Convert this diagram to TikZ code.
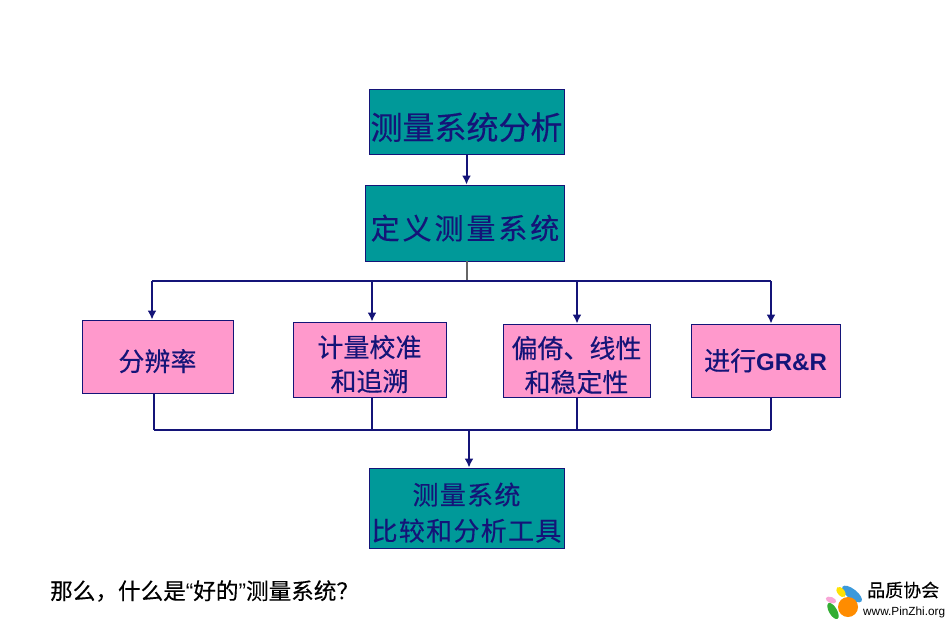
\documentclass[tikz,border=0pt]{standalone}
\usepackage{fontspec}
\usetikzlibrary{arrows.meta}
\setmainfont{Liberation Sans}
\newfontfamily\cjk[FakeBold=0.3]{Noto Sans CJK SC}
\newfontfamily\cjkmid[FakeBold=0.3, LetterSpace=5]{Noto Sans CJK SC}
\newfontfamily\cjkwide[FakeBold=0.3, LetterSpace=10]{Noto Sans CJK SC}
\newcommand{\bas}{\rule{0pt}{1.2em}}
\definecolor{marine}{RGB}{20,20,120}
\definecolor{sarcelle}{RGB}{0,153,153}
\definecolor{rose}{RGB}{255,153,204}

\begin{document}
\begin{tikzpicture}[x=1pt, y=-1pt]
	\tikzset{boite/.style={draw=marine, line width=0.9pt, align=center, text=marine, inner sep=0pt},
	verte/.style={boite, fill=sarcelle},
	rosee/.style={boite, fill=rose, font=\fontsize{26}{34}\selectfont\cjk},
	fleche/.style={draw=marine, line width=2pt, -{Latex[length=9pt,width=9pt]}},
	trait/.style={draw=marine, line width=2pt}};

	\useasboundingbox (0,0) rectangle (950,624);

	\node[verte, minimum width=195pt, minimum height=65pt, font=\fontsize{32}{36}\selectfont\cjk] (mesure) at (466.5,121.5) {\bas 测量系统分析};
	\node[verte, minimum width=199pt, minimum height=76pt, font=\fontsize{29}{36}\selectfont\cjkwide] (defin) at (465,223) {\bas 定义测量系统};
	\node[verte, minimum width=195pt, minimum height=80pt, font=\fontsize{26}{36}\selectfont\cjkmid] (outil) at (466.5,508) {\bas 测量系统\\比较和分析工具};

	\node[rosee, minimum width=151pt, minimum height=73pt] (fen) at (157.5,356.5) {\bas 分辨率};
	\node[rosee, minimum width=153pt, minimum height=75pt] (jil) at (369.5,359.5) {\bas 计量校准\\和追溯};
	\node[rosee, minimum width=147pt, minimum height=73pt] (pian) at (576.5,360.5) {\bas 偏倚、线性\\和稳定性};
	\node[rosee, minimum width=149pt, minimum height=73pt] (gr) at (765.5,360.5) {进行{\fontsize{24}{34}\selectfont\bfseries\rmfamily GR\&R}};

	% bus du haut et bus du bas
	\coordinate (haut-d) at (467,281);
	\coordinate (bas-d) at (469,430);
	\foreach \name/\xh/\xb in {fen/152/154, jil/372/372, pian/577/577, gr/771/771}{
		\coordinate (haut-\name) at (\xh,281);
		\coordinate (bas-\name) at (\xb,430);
		\draw[fleche] (haut-\name) -- (haut-\name |- \name.north);
		\draw[trait] (bas-\name |- \name.south) -- (bas-\name);
	}

	\draw[fleche] (mesure.south) -- (mesure.south |- defin.north);
	\draw[draw=black!60, line width=1.2pt] (defin.south -| haut-d) -- (haut-d);
	\draw[trait] (haut-fen) -- (haut-gr);
	\draw[trait] (bas-fen) -- (bas-gr);
	\draw[fleche] (bas-d) -- (bas-d |- outil.north);

	\node[anchor=west, inner sep=0pt, font=\fontsize{22.6}{24}\selectfont\cjk] (question) at (50,591) {那么，什么是{\rmfamily“}好的{\rmfamily”}测量系统？};

	% logo
	\fill[rotate around={-38:(852,594)}, cyan!70!blue!80] (852,594) ellipse (12pt and 5pt);
	\fill[rotate around={-50:(841,592)}, yellow!85!orange] (841,592) ellipse (6pt and 3.5pt);
	\fill[rotate around={-20:(831,600)}, magenta!35] (831,600) ellipse (5.5pt and 3pt);
	\fill[rotate around={-60:(833,611)}, green!60!black!80] (833,611) ellipse (9pt and 4pt);
	\fill[orange!90!yellow] (848,607) circle (10pt);
	\node[anchor=west, inner sep=0pt, font=\fontsize{18}{20}\selectfont\cjk] (logo) at (867,590) {品质协会};
	\node[anchor=west, inner sep=0pt, font=\fontsize{11.8}{13}\selectfont] (site) at (863,612.5) {www.PinZhi.org};
\end{tikzpicture}
\end{document}
